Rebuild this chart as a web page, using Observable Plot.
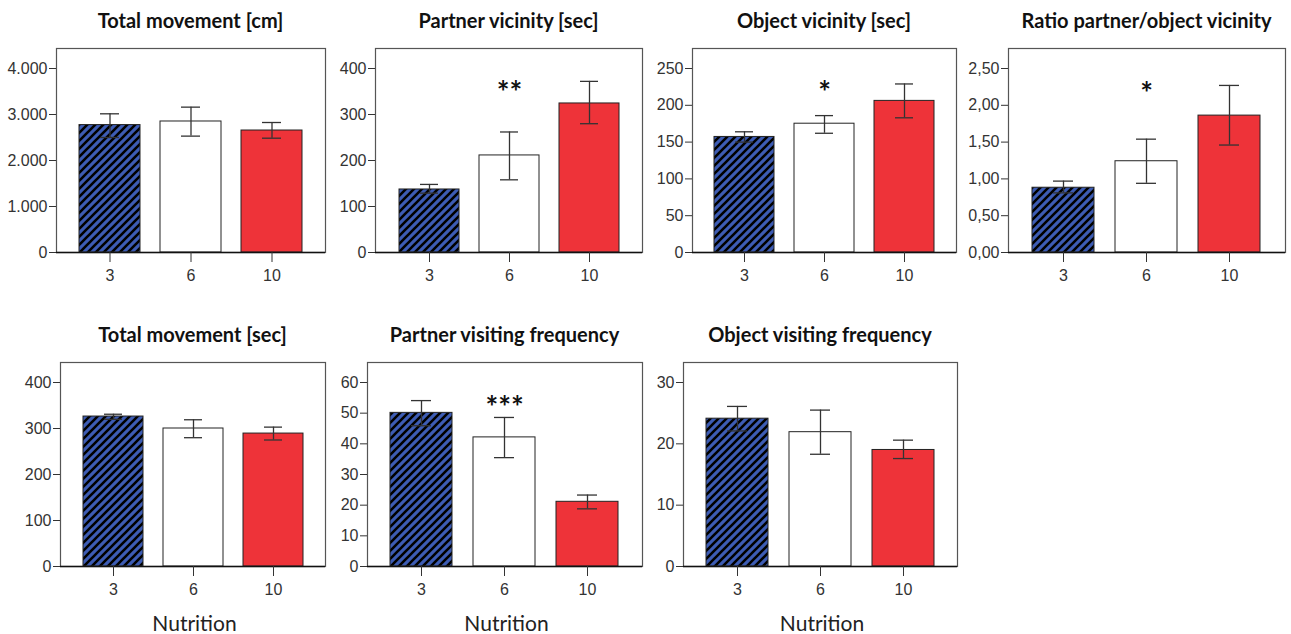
<!DOCTYPE html>
<html>
<head>
<meta charset="utf-8">
<script src="https://cdn.jsdelivr.net/npm/d3@7"></script>
<script src="https://cdn.jsdelivr.net/npm/@observablehq/plot@0.6"></script>
<style>
  body { margin: 0; background: white; }
  #root { position: relative; width: 1291px; height: 634px; background: white; overflow: hidden; }
  .panel { position: absolute; }
  .panel g[aria-label$="tick label"] { font-size: 16px; font-family: 'Liberation Sans', Arial, sans-serif; }
  .title { position: absolute; font-family: Lato, "Open Sans", sans-serif; font-weight: 700; font-size: 20px; color: #111; text-align: center; white-space: nowrap; line-height: 24px; }
  .xlab { position: absolute; font-family: Lato, "Open Sans", sans-serif; font-weight: 400; font-size: 21px; color: #222; text-align: center; white-space: nowrap; line-height: 24px; }
</style>
</head>
<body>
<svg width="0" height="0" style="position:absolute">
  <defs>
    <pattern id="hatch" patternUnits="userSpaceOnUse" width="8" height="8">
      <rect width="8" height="8" fill="#3d5cb4"></rect>
      <path d="M-2,2 l4,-4 M0,8 l8,-8 M6,10 l4,-4" stroke="#000" stroke-width="2.6"></path>
    </pattern>
  </defs>
</svg>
<div id="root"></div>
<script>
// ---- Data ----
const categories = ["3", "6", "10"];
const barColors = ["url(#hatch)", "white", "#ee3339"];

const titles = [
  "Total movement [cm]",
  "Partner vicinity [sec]",
  "Object vicinity [sec]",
  "Ratio partner/object vicinity",
  "Total movement [sec]",
  "Partner visiting frequency",
  "Object visiting frequency"
];

const movementCm     = [2770, 2848, 2652];
const movementCmLo   = [2500, 2530, 2485];
const movementCmHi   = [3015, 3160, 2826];

const partnerVic     = [137, 211, 324];
const partnerVicLo   = [129, 158, 280];
const partnerVicHi   = [148, 262, 372];

const objectVic      = [157, 175, 206];
const objectVicLo    = [150, 162, 183];
const objectVicHi    = [164, 186, 229];

const ratioVic       = [0.88, 1.24, 1.86];
const ratioVicLo     = [0.81, 0.94, 1.46];
const ratioVicHi     = [0.97, 1.54, 2.27];

const movementSec    = [326, 300, 289];
const movementSecLo  = [320, 280, 275];
const movementSecHi  = [331, 319, 303];

const partnerFreq    = [50.1, 42.1, 21.1];
const partnerFreqLo  = [45.9, 35.5, 18.8];
const partnerFreqHi  = [54.1, 48.6, 23.3];

const objectFreq     = [24.1, 21.9, 19.0];
const objectFreqLo   = [22.1, 18.3, 17.6];
const objectFreqHi   = [26.1, 25.5, 20.6];

const yTicks1 = [0, 1000, 2000, 3000, 4000];
const yTicks2 = [0, 100, 200, 300, 400];
const yTicks3 = [0, 50, 100, 150, 200, 250];
const yTicks4 = [0, 0.5, 1, 1.5, 2, 2.5];
const yTicks5 = [0, 100, 200, 300, 400];
const yTicks6 = [0, 10, 20, 30, 40, 50, 60];
const yTicks7 = [0, 10, 20, 30];

const stars    = ["", "**", "*", "*", "", "***", ""];
const starCat  = "6";
const starY    = [null, 364, 227, 2.26, null, 54.3, null];

const xAxisTitle = "Nutrition";

// ---- Layout ----
const de = d3.formatLocale({decimal: ",", thousands: ".", grouping: [3], currency: ["", "€"]});
const fmtInt = de.format(",.0f");
const fmt2 = de.format(".2f");

const panels = [
  {v: movementCm, lo: movementCmLo, hi: movementCmHi, ticks: yTicks1, fmt: fmtInt, f: [56, 325, 48, 252]},
  {v: partnerVic, lo: partnerVicLo, hi: partnerVicHi, ticks: yTicks2, fmt: fmtInt, f: [375, 642, 48, 252]},
  {v: objectVic, lo: objectVicLo, hi: objectVicHi, ticks: yTicks3, fmt: fmtInt, f: [692, 956, 48, 252]},
  {v: ratioVic, lo: ratioVicLo, hi: ratioVicHi, ticks: yTicks4, fmt: fmt2, f: [1008, 1285, 48, 252]},
  {v: movementSec, lo: movementSecLo, hi: movementSecHi, ticks: yTicks5, fmt: fmtInt, f: [60, 325, 362, 566]},
  {v: partnerFreq, lo: partnerFreqLo, hi: partnerFreqHi, ticks: yTicks6, fmt: fmtInt, f: [367, 642, 362, 566]},
  {v: objectFreq, lo: objectFreqLo, hi: objectFreqHi, ticks: yTicks7, fmt: fmtInt, f: [683, 957, 362, 566]}
];

const root = document.getElementById("root");
const mL = 56, mR = 6, mT = 4, mB = 40;
const tickFont = "'Liberation Sans', Arial, sans-serif";

panels.forEach((p, i) => {
  const [fl, fr, ft, fb] = p.f;
  const data = categories.map((c, j) => ({cat: c, v: p.v[j], lo: p.lo[j], hi: p.hi[j]}));
  const topTick = p.ticks[p.ticks.length - 1];
  const yMax = topTick * (fb - ft) / (fb - ft - 20);
  const width = fr - fl + mL + mR;
  const height = fb - ft + mT + mB;
  const marks = [
    Plot.barY(data, {x: "cat", y: "v", fill: "cat", stroke: "#222", strokeWidth: 1}),
    Plot.ruleX(data, {x: "cat", y1: "lo", y2: "hi", stroke: "#333", strokeWidth: 1.3}),
    Plot.tickY(data, {x: "cat", y: "lo", stroke: "#333", strokeWidth: 1.3, insetLeft: 21, insetRight: 21}),
    Plot.tickY(data, {x: "cat", y: "hi", stroke: "#333", strokeWidth: 1.3, insetLeft: 21, insetRight: 21}),
    Plot.frame({stroke: "#555", strokeWidth: 1.2}),
    Plot.ruleY([0], {stroke: "#111", strokeWidth: 1.3}),
    Plot.axisY({ticks: p.ticks, tickFormat: p.fmt, tickSize: 7, tickPadding: 2, stroke: "#333", fill: "#333", fontSize: 16, fontFamily: tickFont, label: null}),
    Plot.axisX({tickSize: 10, tickPadding: 7, stroke: "#333", fill: "#333", fontSize: 16, fontFamily: tickFont, label: null})
  ];
  if (stars[i]) {
    marks.push(Plot.text([{cat: starCat, y: starY[i], s: stars[i]}], {
      x: "cat", y: "y", text: "s", fontSize: 30, fontWeight: "bold",
      fontFamily: "Lato, sans-serif", fill: "#111", lineAnchor: "middle", dy: 8
    }));
  }
  const chart = Plot.plot({
    width, height,
    marginLeft: mL, marginRight: mR, marginTop: mT, marginBottom: mB,
    x: {domain: categories, paddingInner: 0.25, paddingOuter: 0.275},
    y: {domain: [0, yMax]},
    color: {domain: categories, range: barColors},
    style: {fontFamily: tickFont, fontSize: "16px", color: "#333", background: "transparent", overflow: "visible"},
    marks
  });
  chart.classList.add("panel");
  chart.style.left = (fl - mL) + "px";
  chart.style.top = (ft - mT) + "px";
  root.appendChild(chart);

  const t = document.createElement("div");
  t.className = "title";
  t.textContent = titles[i];
  t.style.left = ((fl + fr) / 2 - 200) + "px";
  t.style.width = "400px";
  t.style.top = (ft - 40) + "px";
  root.appendChild(t);

  if (i >= 4) {
    const xl = document.createElement("div");
    xl.className = "xlab";
    xl.textContent = xAxisTitle;
    xl.style.left = ((fl + fr) / 2 + 2 - 100) + "px";
    xl.style.width = "200px";
    xl.style.top = (fb + 45) + "px";
    root.appendChild(xl);
  }
});
</script>
</body>
</html>
